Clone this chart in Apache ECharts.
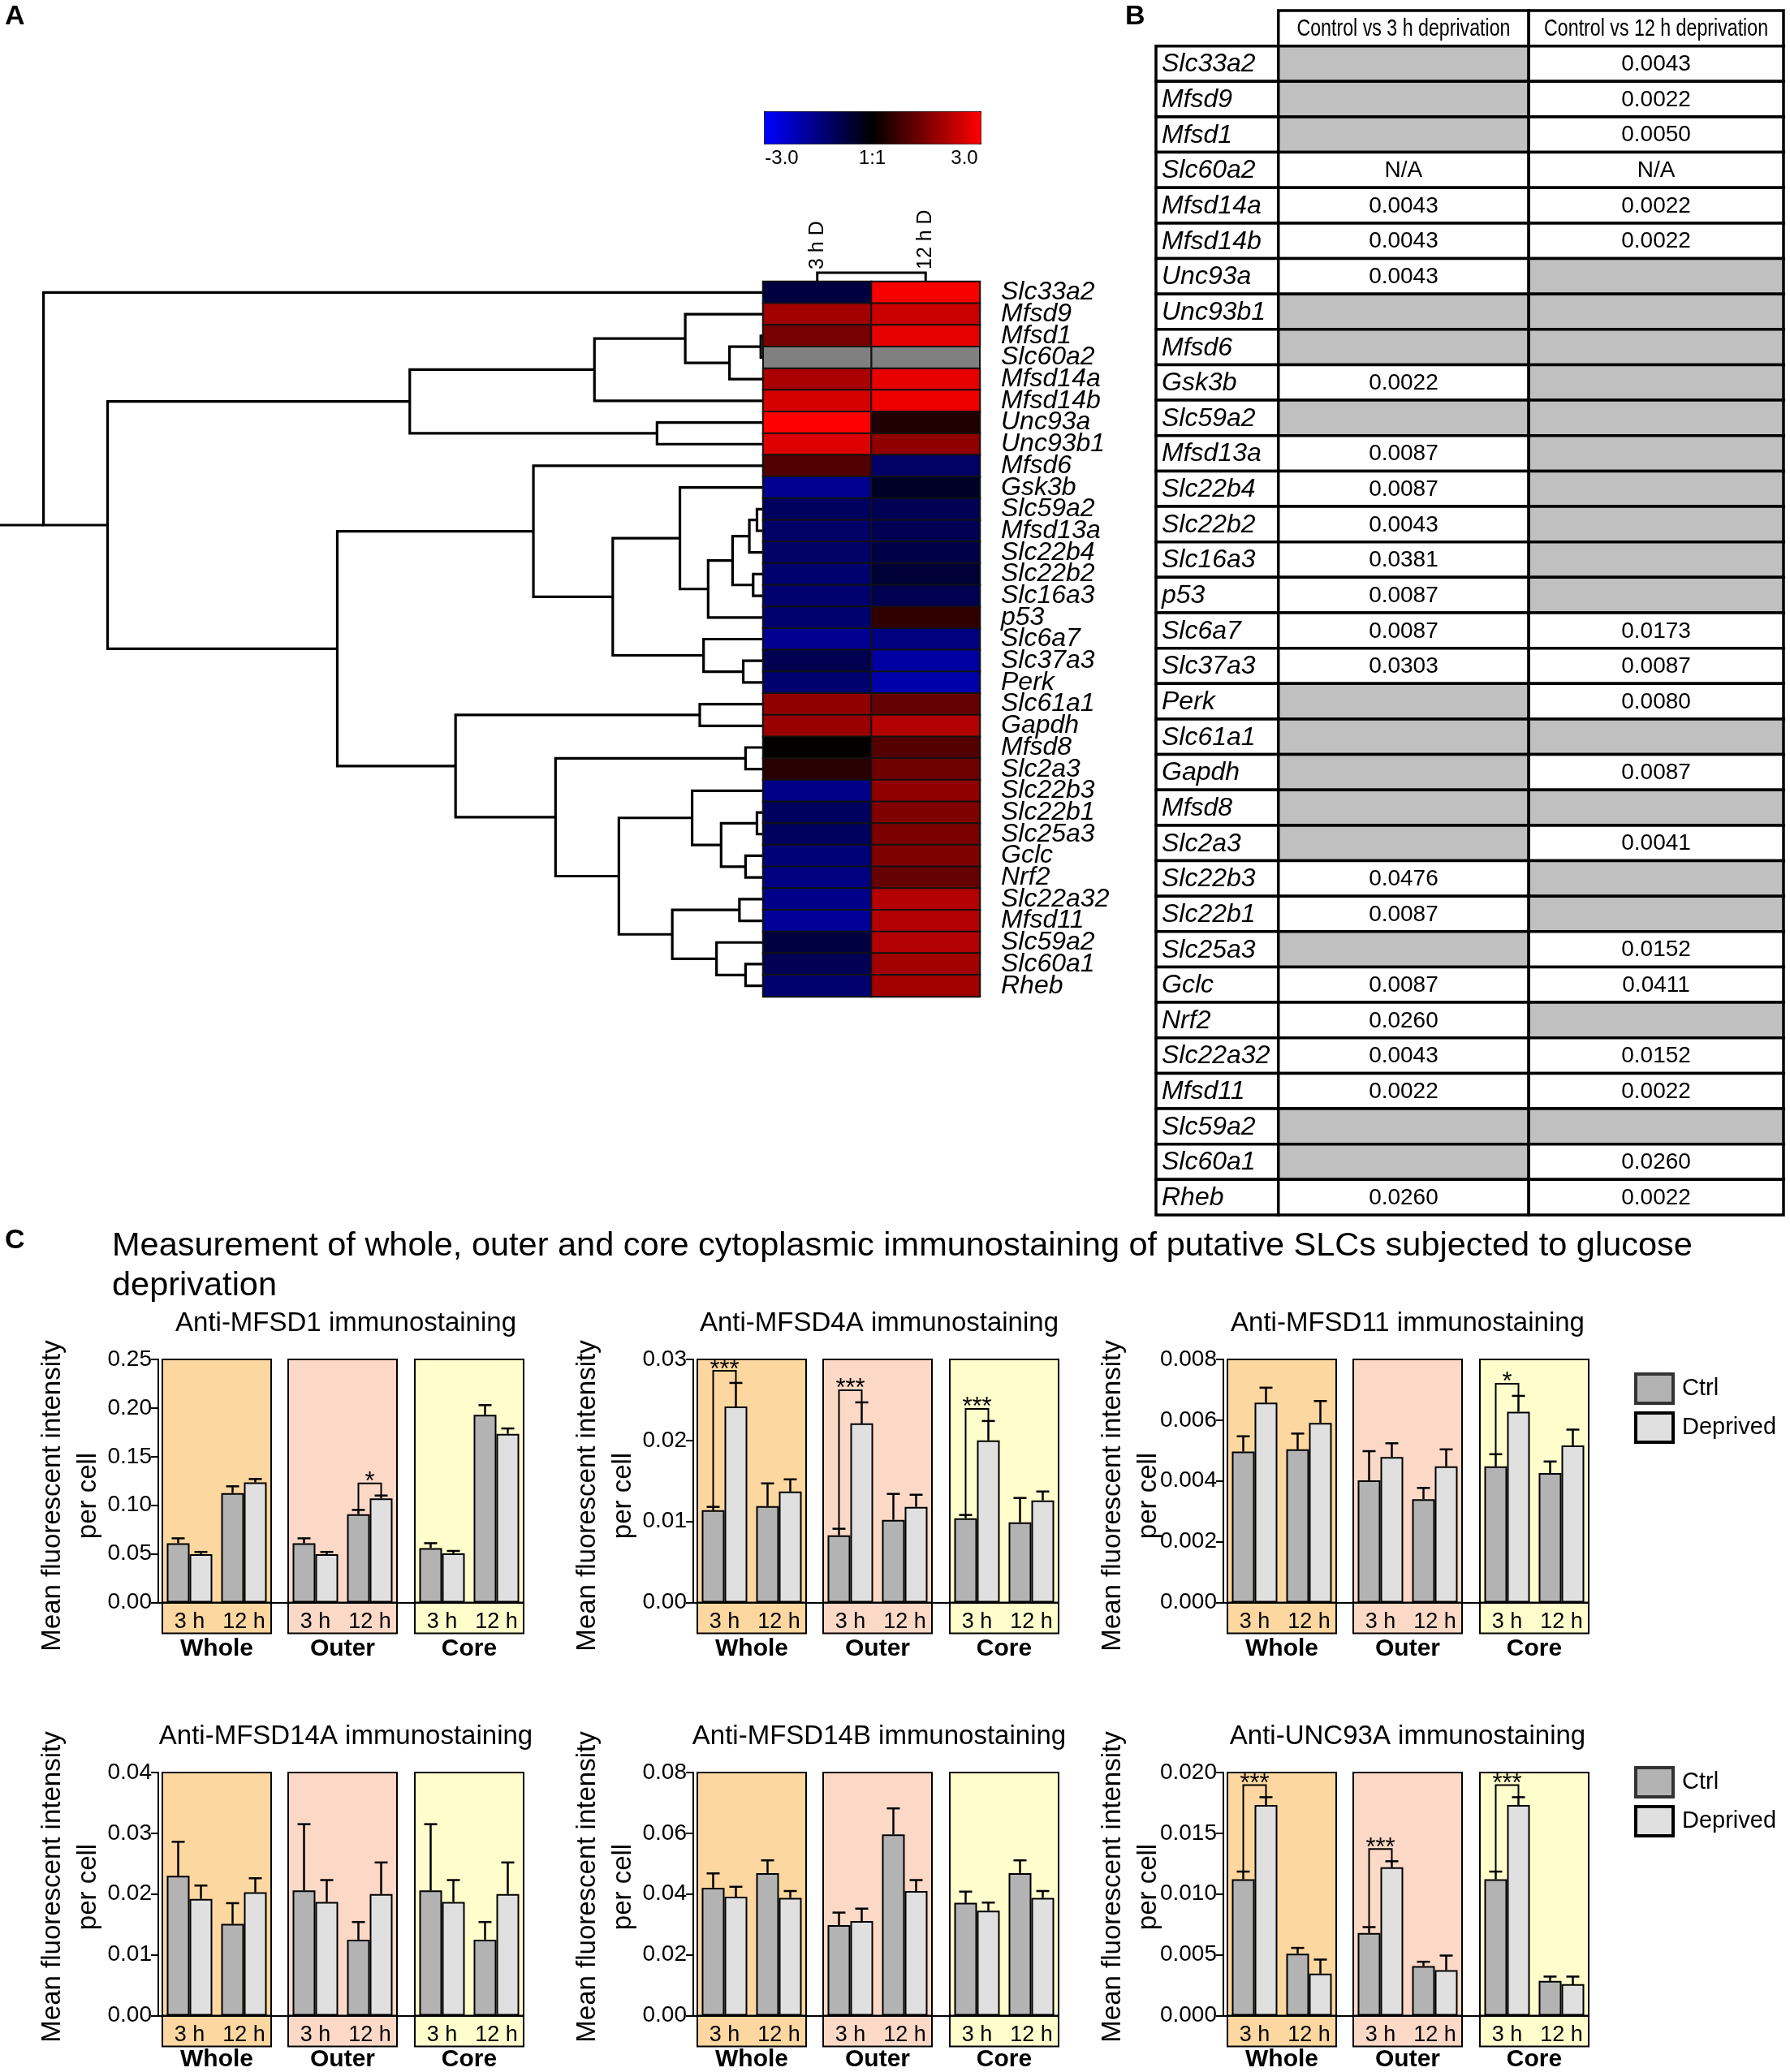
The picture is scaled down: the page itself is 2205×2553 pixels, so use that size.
<!DOCTYPE html>
<html><head><meta charset="utf-8">
<script src="https://cdn.jsdelivr.net/npm/echarts/dist/echarts.min.js"></script>
<style>html,body{margin:0;padding:0;background:#fff}#c{width:2205px;height:2553px}</style>
</head><body><div id="c"></div>
<script>
// ---------------- DATA ----------------
const genes = ['Slc33a2','Mfsd9','Mfsd1','Slc60a2','Mfsd14a','Mfsd14b','Unc93a','Unc93b1','Mfsd6','Gsk3b','Slc59a2','Mfsd13a','Slc22b4','Slc22b2','Slc16a3','p53','Slc6a7','Slc37a3','Perk','Slc61a1','Gapdh','Mfsd8','Slc2a3','Slc22b3','Slc22b1','Slc25a3','Gclc','Nrf2','Slc22a32','Mfsd11','Slc59a2','Slc60a1','Rheb'];
const heatCols = ['3 h D','12 h D'];
const heat3h  = [-0.75,1.9,1.4,null,2.0,2.5,3.0,2.6,0.95,-1.7,-1.1,-1.2,-1.2,-1.3,-1.3,-1.3,-1.7,-0.95,-1.3,1.7,1.8,0.05,0.47,-1.6,-1.1,-1.1,-1.4,-1.5,-1.6,-1.8,-0.75,-1.0,-1.3];
const heat12h = [2.9,2.35,2.7,null,2.7,2.8,0.38,1.7,-1.2,-0.45,-1.0,-1.0,-0.85,-0.65,-0.95,0.56,-1.5,-1.9,-2.0,1.2,2.1,1.0,1.3,1.7,1.5,1.45,1.5,1.2,2.1,2.1,2.1,1.9,1.9];
const colorScaleTicks = ['-3.0','1:1','3.0'];
// row dendrogram: [childA, childB, height]; leaves 0..32, merged nodes 33+
const dendroMerges = [
 [2,3,0.003],[33,4,0.044],[1,34,0.102],[35,5,0.221],[6,7,0.139],[36,37,0.463],
 [10,11,0.008],[39,12,0.018],[13,14,0.013],[40,41,0.040],[42,15,0.072],[9,43,0.109],
 [17,18,0.026],[16,45,0.078],[44,46,0.197],[8,47,0.301],
 [19,20,0.083],[21,22,0.023],[24,25,0.008],[26,27,0.023],[51,52,0.055],[23,53,0.093],
 [28,29,0.031],[31,32,0.023],[30,56,0.061],[55,57,0.119],[54,58,0.189],[50,59,0.272],
 [49,60,0.403],[48,61,0.558],[38,62,0.859],[0,63,0.943]
];
const colMerge = [0,1,1];
const tableHeader = ['Control vs 3 h deprivation','Control vs 12 h deprivation'];
const pval3h  = ['','','','N/A','0.0043','0.0043','0.0043','','','0.0022','','0.0087','0.0087','0.0043','0.0381','0.0087','0.0087','0.0303','','','','','','0.0476','0.0087','','0.0087','0.0260','0.0043','0.0022','','','0.0260'];
const pval12h = ['0.0043','0.0022','0.0050','N/A','0.0022','0.0022','','','','','','','','','','','0.0173','0.0087','0.0080','','0.0087','','0.0041','','','0.0152','0.0411','','0.0152','0.0022','','0.0260','0.0022'];

const regions = ['Whole','Outer','Core'];
const timepoints = ['3 h','12 h'];
const seriesNames = ['Ctrl','Deprived'];
// order: Whole 3h, Whole 12h, Outer 3h, Outer 12h, Core 3h, Core 12h
const mfsd1Ctrl     = [0.061,0.1125,0.061,0.0908,0.056,0.193];
const mfsd1CtrlSem  = [0.005,0.007,0.005,0.0044,0.005,0.010];
const mfsd1Depr     = [0.0497,0.1235,0.0497,0.107,0.0506,0.1735];
const mfsd1DeprSem  = [0.0023,0.0035,0.0023,0.003,0.0024,0.0055];
const mfsd1Sig      = ['','','','*','',''];
const mfsd4aCtrl    = [0.0114,0.0119,0.0083,0.0102,0.0104,0.0099];
const mfsd4aCtrlSem = [0.0004,0.0028,0.0008,0.0032,0.0004,0.0030];
const mfsd4aDepr    = [0.0242,0.0137,0.0221,0.0118,0.0200,0.0126];
const mfsd4aDeprSem = [0.0029,0.0015,0.0026,0.0015,0.0024,0.0011];
const mfsd4aSig     = ['***','','***','','***',''];
const mfsd11Ctrl    = [0.00497,0.00504,0.00402,0.0034,0.00448,0.00426];
const mfsd11CtrlSem = [0.0005,0.00052,0.00096,0.00037,0.0004,0.00038];
const mfsd11Depr    = [0.00658,0.00591,0.00479,0.00448,0.00628,0.00517];
const mfsd11DeprSem = [0.00049,0.00072,0.00045,0.00056,0.00052,0.00052];
const mfsd11Sig     = ['','','','','*',''];
const mfsd14aCtrl    = [0.0230,0.0151,0.0206,0.0125,0.0206,0.0125];
const mfsd14aCtrlSem = [0.0056,0.0034,0.0109,0.0029,0.0109,0.0029];
const mfsd14aDepr    = [0.0192,0.0203,0.0187,0.0200,0.0187,0.0200];
const mfsd14aDeprSem = [0.0022,0.0023,0.0036,0.0052,0.0036,0.0052];
const mfsd14aSig     = ['','','','','',''];
const mfsd14bCtrl    = [0.0421,0.0469,0.0298,0.0596,0.0371,0.0469];
const mfsd14bCtrlSem = [0.0047,0.0042,0.0041,0.0086,0.0037,0.0042];
const mfsd14bDepr    = [0.0391,0.0387,0.0311,0.041,0.0345,0.0387];
const mfsd14bDeprSem = [0.0033,0.0023,0.0041,0.0036,0.0027,0.0023];
const mfsd14bSig     = ['','','','','',''];
const unc93aCtrl    = [0.01122,0.0051,0.00679,0.00408,0.01122,0.00285];
const unc93aCtrlSem = [0.00063,0.00047,0.00049,0.00035,0.00063,0.00036];
const unc93aDepr    = [0.01733,0.00345,0.0122,0.00374,0.01733,0.00258];
const unc93aDeprSem = [0.00064,0.00116,0.0005,0.0012,0.00064,0.00063];
const unc93aSig     = ['***','','***','','***',''];

const panels = [
 {title:'Anti-MFSD1 immunostaining',  ctrl:mfsd1Ctrl,  ctrlSem:mfsd1CtrlSem,  depr:mfsd1Depr,  deprSem:mfsd1DeprSem,  sig:mfsd1Sig,  max:0.25, step:0.05, dec:2},
 {title:'Anti-MFSD4A immunostaining', ctrl:mfsd4aCtrl, ctrlSem:mfsd4aCtrlSem, depr:mfsd4aDepr, deprSem:mfsd4aDeprSem, sig:mfsd4aSig, max:0.03, step:0.01, dec:2},
 {title:'Anti-MFSD11 immunostaining', ctrl:mfsd11Ctrl, ctrlSem:mfsd11CtrlSem, depr:mfsd11Depr, deprSem:mfsd11DeprSem, sig:mfsd11Sig, max:0.008, step:0.002, dec:3},
 {title:'Anti-MFSD14A immunostaining',ctrl:mfsd14aCtrl,ctrlSem:mfsd14aCtrlSem,depr:mfsd14aDepr,deprSem:mfsd14aDeprSem,sig:mfsd14aSig,max:0.04, step:0.01, dec:2},
 {title:'Anti-MFSD14B immunostaining',ctrl:mfsd14bCtrl,ctrlSem:mfsd14bCtrlSem,depr:mfsd14bDepr,deprSem:mfsd14bDeprSem,sig:mfsd14bSig,max:0.08, step:0.02, dec:2},
 {title:'Anti-UNC93A immunostaining', ctrl:unc93aCtrl, ctrlSem:unc93aCtrlSem, depr:unc93aDepr, deprSem:unc93aDeprSem, sig:unc93aSig, max:0.020,step:0.005,dec:3}
];
const mainTitle = 'Measurement of whole, outer and core cytoplasmic immunostaining of putative SLCs subjected to glucose\ndeprivation';
const yName = 'Mean fluorescent intensity\nper cell';

// ---------------- LAYOUT / STYLE ----------------
const FONT = '"Liberation Sans", Arial, sans-serif';
const HM = {left:940, top:347, width:267, height:881};
const TB = {left:1424, top:13, width:773, height:1484};
const COL_EDGES = [0, 0.195, 0.594, 1];
const ROW_TOP = [1675, 2184], PLOT_H = 299.5, BELOW = 38;
const AXIS_X = [195, 854, 1507], BOX_OFF = [5, 160, 316], BOX_W = 134;
const BOX_BG = ['#FDD7A0', '#FCD9C7', '#FFFDCC'];
const NAME_GAP = [42, 38];
const YNAME_X = [87, 746, 1393], YNAME_Y = [1843, 2325];
const TITLE_X = [426, 1083, 1734], TITLE_Y = [1631, 2140];
const BAR_W = 28, CAP_W = 16;
const BAR_COLORS = ['#B3B3B3', '#E0E0E0'];

const grids = [], xAxes = [], yAxes = [], series = [], graphics = [];
function addGrid(g, xa, ya) {
  grids.push(Object.assign({outerBoundsMode:'none', containLabel:false}, g));
  const gi = grids.length - 1;
  xAxes.push(Object.assign({gridIndex: gi}, xa));
  yAxes.push(Object.assign({gridIndex: gi}, ya));
  return gi;
}

// ---------- Panel A: dendrogram ----------
const nodeY = genes.map((g, i) => i), nodeH = genes.map(() => 0);
dendroMerges.forEach(([a, b, h]) => { nodeY.push((nodeY[a] + nodeY[b]) / 2); nodeH.push(h); });
const dendroSegs = dendroMerges.map(([a, b, h]) => [nodeH[a], nodeY[a], nodeH[b], nodeY[b], h]);
const root = dendroMerges[dendroMerges.length - 1];
const stubY = nodeY[root[1]];
dendroSegs.push([1.0, stubY, root[2], stubY, root[2]]);

const gD = addGrid({left:0, top:HM.top, width:HM.left, height:HM.height},
  {type:'value', min:0, max:1, inverse:true, show:false},
  {type:'value', min:-0.5, max:genes.length - 0.5, inverse:true, show:false});
series.push({type:'custom', xAxisIndex:gD, yAxisIndex:gD, silent:true, data:dendroSegs,
  renderItem(params, api) {
    const p1 = api.coord([api.value(0), api.value(1)]);
    const p2 = api.coord([api.value(4), api.value(1)]);
    const p3 = api.coord([api.value(4), api.value(3)]);
    const p4 = api.coord([api.value(2), api.value(3)]);
    return {type:'polyline', shape:{points:[p1,p2,p3,p4]}, style:{stroke:'#000', lineWidth:3.2, fill:null}};
  }});

// ---------- Panel A: heatmap ----------
const gH = addGrid({left:HM.left, top:HM.top, width:HM.width, height:HM.height, show:true, borderColor:'#000', borderWidth:2, backgroundColor:'transparent'},
  {type:'category', data:heatCols, position:'top', axisLine:{show:false}, axisTick:{show:false},
   axisLabel:{rotate:-90, interval:0, fontSize:25, color:'#000', margin:15, fontFamily:FONT}, splitLine:{show:false}},
  {type:'category', data:genes, inverse:true, position:'right', axisLine:{show:false}, axisTick:{show:false},
   axisLabel:{interval:0, fontSize:32, fontStyle:'italic', color:'#000', margin:26, fontFamily:FONT}, splitLine:{show:false}});
const heatData = [], naData = [];
[heat3h, heat12h].forEach((col, c) => col.forEach((v, r) => { if (v === null) naData.push([c, r]); else heatData.push([c, r, v]); }));
series.push({type:'heatmap', xAxisIndex:gH, yAxisIndex:gH, data:heatData, silent:true,
  itemStyle:{borderColor:'#111', borderWidth:2}});
const heatIdx = series.length - 1;
series.push({type:'custom', xAxisIndex:gH, yAxisIndex:gH, silent:true, data:naData,
  renderItem(params, api) {
    const c = api.coord([api.value(0), api.value(1)]);
    const s = api.size([1, 1]);
    return {type:'rect', shape:{x:c[0]-s[0]/2, y:c[1]-s[1]/2, width:s[0], height:s[1]}, style:{fill:'#808080', stroke:'#111', lineWidth:2}};
  }});

// column dendrogram
const gCD = addGrid({left:HM.left, top:HM.top - 11, width:HM.width, height:11},
  {type:'category', data:heatCols, show:false},
  {type:'value', min:0, max:1, show:false});
series.push({type:'custom', xAxisIndex:gCD, yAxisIndex:gCD, silent:true, data:[colMerge],
  renderItem(params, api) {
    const a0 = api.coord([api.value(0), 0]), a1 = api.coord([api.value(0), api.value(2)]);
    const b1 = api.coord([api.value(1), api.value(2)]), b0 = api.coord([api.value(1), 0]);
    return {type:'polyline', shape:{points:[a0,a1,b1,b0]}, style:{stroke:'#000', lineWidth:3, fill:null}};
  }});

// colour scale labels
const CB = {left:941, top:137, len:267, thick:40};
colorScaleTicks.forEach((t, i) => {
  const xs = [CB.left + 22, CB.left + CB.len * 0.5, CB.left + CB.len - 20];
  graphics.push({type:'text', x:xs[i], y:CB.top + CB.thick + 18, style:{text:t, font:'24px ' + FONT, fill:'#000', textAlign:'center', textVerticalAlign:'middle'}});
});

// ---------- Panel B: table ----------
const tableCells = [];
tableHeader.forEach((t, i) => tableCells.push({col:i + 1, row:0, text:t, kind:'head'}));
genes.forEach((g, r) => {
  tableCells.push({col:0, row:r + 1, text:g, kind:'gene'});
  tableCells.push({col:1, row:r + 1, text:pval3h[r], kind:'val'});
  tableCells.push({col:2, row:r + 1, text:pval12h[r], kind:'val'});
});
const gT = addGrid({left:TB.left, top:TB.top, width:TB.width, height:TB.height},
  {type:'value', min:0, max:1, show:false},
  {type:'category', data:[''].concat(genes), inverse:true, show:false});
series.push({type:'custom', xAxisIndex:gT, yAxisIndex:gT, silent:true,
  data:tableCells.map(c => [c.col, c.row]),
  renderItem(params, api) {
    const cell = tableCells[params.dataIndex];
    const yc = api.coord([0, api.value(1)])[1];
    const h = api.size([0, 1])[1];
    const x0 = api.coord([COL_EDGES[cell.col], 0])[0];
    const x1 = api.coord([COL_EDGES[cell.col + 1], 0])[0];
    const gray = cell.kind === 'val' && cell.text === '';
    const head = cell.kind === 'head';
    const font = cell.kind === 'gene' ? 'italic 32px ' + FONT : (head ? '29px ' + FONT : '28px ' + FONT);
    const left = cell.kind === 'gene';
    return {type:'group', children:[
      {type:'rect', shape:{x:x0, y:yc - h/2, width:x1 - x0, height:h}, style:{fill:gray ? '#C0C0C0' : '#fff', stroke:'#000', lineWidth:3.5}},
      {type:'text', x:left ? x0 + 7 : (x0 + x1)/2, y:yc + 1, scaleX:head ? 0.8 : 1,
        style:{text:cell.text, x:0, y:0, font:font, fill:'#000',
        textAlign:left ? 'left' : 'center', textVerticalAlign:'middle', align:left ? 'left' : 'center', verticalAlign:'middle'}}
    ]};
  }});

// ---------- Panel C: bar charts ----------
panels.forEach((P, p) => {
  const r = Math.floor(p / 3), c = p % 3;
  // y axis + zero line spanning the whole panel
  addGrid({left:AXIS_X[c], top:ROW_TOP[r], width:BOX_OFF[2] + BOX_W, height:PLOT_H},
    {type:'value', min:0, max:1, axisLine:{show:true, lineStyle:{color:'#000', width:2}}, axisTick:{show:false}, axisLabel:{show:false}, splitLine:{show:false}},
    {type:'value', min:0, max:P.max, interval:P.step, axisLine:{show:true, lineStyle:{color:'#000', width:2}},
     axisTick:{show:true, length:9, lineStyle:{color:'#000', width:2}},
     axisLabel:{fontSize:28, color:'#000', margin:8, fontFamily:FONT, formatter:v => v.toFixed(P.dec)}, splitLine:{show:false}});
  regions.forEach((reg, g) => {
    const bx = AXIS_X[c] + BOX_OFF[g];
    // label strip below zero (same background)
    addGrid({left:bx, top:ROW_TOP[r] + PLOT_H, width:BOX_W, height:BELOW, show:true,
        backgroundColor:BOX_BG[g], borderColor:'#000', borderWidth:2},
      {type:'value', min:0, max:1, show:false}, {type:'value', min:0, max:1, show:false});
    const gi = addGrid({left:bx, top:ROW_TOP[r], width:BOX_W, height:PLOT_H, show:true,
        backgroundColor:BOX_BG[g], borderColor:'#000', borderWidth:2},
      {type:'category', data:timepoints, name:reg, nameLocation:'middle', nameGap:NAME_GAP[r],
       nameTextStyle:{fontSize:30, fontWeight:'bold', color:'#000', fontFamily:FONT},
       axisLine:{show:true, lineStyle:{color:'#000', width:2}},
       axisTick:{alignWithLabel:true, length:15, lineStyle:{color:'#000', width:2}},
       axisLabel:{interval:0, fontSize:27, color:'#000', margin:11, fontFamily:FONT}, splitLine:{show:false}},
      {type:'value', min:0, max:P.max, show:false, splitLine:{show:false}});
    const vals = [[P.ctrl[2*g], P.ctrl[2*g+1]], [P.depr[2*g], P.depr[2*g+1]]];
    const sems = [[P.ctrlSem[2*g], P.ctrlSem[2*g+1]], [P.deprSem[2*g], P.deprSem[2*g+1]]];
    seriesNames.forEach((nm, s) => {
      series.push({type:'bar', name:nm, xAxisIndex:gi, yAxisIndex:gi, data:vals[s], barWidth:BAR_W, barGap:'0%', silent:true,
        itemStyle:{color:BAR_COLORS[s], borderColor:'#000', borderWidth:2}});
    });
    const errData = [];
    [0, 1].forEach(t => { errData.push([t, -1, vals[0][t], sems[0][t]]); errData.push([t, 1, vals[1][t], sems[1][t]]); });
    series.push({type:'custom', xAxisIndex:gi, yAxisIndex:gi, silent:true, z:4, data:errData, clip:false,
      renderItem(params, api) {
        const b = api.coord([api.value(0), api.value(2)]);
        const top = api.coord([api.value(0), api.value(2) + api.value(3)]);
        const x = b[0] + api.value(1) * BAR_W / 2;
        return {type:'group', children:[
          {type:'line', shape:{x1:x, y1:b[1], x2:x, y2:top[1]}, style:{stroke:'#000', lineWidth:2.5}},
          {type:'line', shape:{x1:x - CAP_W/2, y1:top[1], x2:x + CAP_W/2, y2:top[1]}, style:{stroke:'#000', lineWidth:2.5}}
        ]};
      }});
    const brData = [], brLabels = [];
    [0, 1].forEach(t => {
      const lab = P.sig[2*g + t];
      if (!lab) return;
      const ct = vals[0][t] + sems[0][t], dt = vals[1][t] + sems[1][t];
      brData.push([t, ct, dt, Math.max(ct, dt) + 0.05 * P.max]);
      brLabels.push(lab);
    });
    if (brData.length) series.push({type:'custom', xAxisIndex:gi, yAxisIndex:gi, silent:true, z:5, data:brData, clip:false,
      renderItem(params, api) {
        const t = api.value(0);
        const c0 = api.coord([t, api.value(1)]), d0 = api.coord([t, api.value(2)]), hb = api.coord([t, api.value(3)]);
        const xl = c0[0] - BAR_W / 2, xr = c0[0] + BAR_W / 2;
        return {type:'group', children:[
          {type:'polyline', shape:{points:[[xl, c0[1]], [xl, hb[1]], [xr, hb[1]], [xr, d0[1]]]}, style:{stroke:'#000', lineWidth:2, fill:null}},
          {type:'text', style:{text:brLabels[params.dataIndex], x:(xl + xr)/2, y:hb[1] - 1, font:'31px ' + FONT, fill:'#000',
            textAlign:'center', textVerticalAlign:'middle', align:'center', verticalAlign:'middle'}}
        ]};
      }});
  });
  graphics.push({type:'text', x:TITLE_X[c], y:TITLE_Y[r], style:{text:P.title, font:'33px ' + FONT, fill:'#000', textAlign:'center', textVerticalAlign:'middle'}});
  graphics.push({type:'text', x:YNAME_X[c], y:YNAME_Y[r], rotation:Math.PI/2,
    style:{text:yName, font:'33px ' + FONT, lineHeight:44, fill:'#000', textAlign:'center', textVerticalAlign:'middle'}});
});

// panel letters & main title
graphics.push({type:'text', x:6, y:4, style:{text:'A', font:'bold 34px ' + FONT, fill:'#000', textVerticalAlign:'top'}});
graphics.push({type:'text', x:1386, y:4, style:{text:'B', font:'bold 34px ' + FONT, fill:'#000', textVerticalAlign:'top'}});
graphics.push({type:'text', x:6, y:1512, style:{text:'C', font:'bold 34px ' + FONT, fill:'#000', textVerticalAlign:'top'}});
graphics.push({type:'text', x:138, y:1511, style:{text:mainTitle, font:'41.5px ' + FONT, lineHeight:49, fill:'#000', textVerticalAlign:'top'}});

const legendData = [{name:'Ctrl', itemStyle:{borderColor:'#333', borderWidth:4}}, {name:'Deprived', itemStyle:{borderColor:'#000', borderWidth:4}}];
const legends = [1691, 2176].map(top => ({data:legendData, left:2013, top:top, orient:'vertical', icon:'rect',
  itemWidth:46, itemHeight:36, itemGap:8, padding:0, selectedMode:false,
  textStyle:{fontSize:29, color:'#000', fontFamily:FONT, padding:[0,0,0,6]}}));

const chart = echarts.init(document.getElementById('c'), null, {renderer:'canvas'});
chart.setOption({
  animation:false,
  backgroundColor:'#fff',
  textStyle:{fontFamily:FONT},
  grid:grids, xAxis:xAxes, yAxis:yAxes, series:series,
  legend:legends,
  visualMap:[{type:'continuous', seriesIndex:heatIdx, min:-3, max:3, orient:'horizontal', left:CB.left, top:CB.top,
    itemWidth:CB.thick, itemHeight:CB.len, calculable:false, padding:0, borderColor:'#000', borderWidth:1,
    inRange:{color:['#0000ff', '#000000', '#ff0000']}}],
  graphic:{elements:graphics}
});
</script></body></html>
